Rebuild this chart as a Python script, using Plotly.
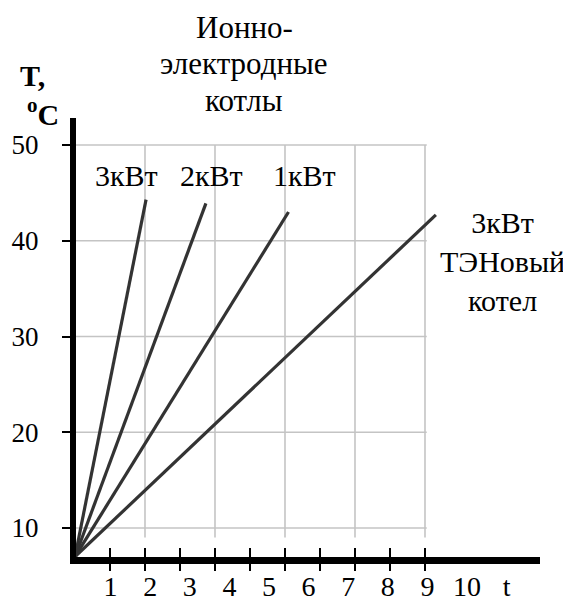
import plotly.graph_objects as go

# ---------------- data ----------------
series_names = ["3кВт", "2кВт", "1кВт", "3кВт ТЭНовый котел"]
t_start = [0.0, 0.0, 0.0, 0.0]
T_start = [7.0, 7.0, 7.0, 7.0]
t_end = [2.03, 3.74, 6.10, 10.31]
T_end = [44.3, 43.9, 43.0, 42.7]

y_tick_vals = [10, 20, 30, 40, 50]
y_tick_text = ["10", "20", "30", "40", "50"]
x_tick_vals = [1, 2, 3, 4, 5, 6, 7, 8, 9, 10]
x_grid_vals = [2, 4, 6, 8, 10]
x_label_vals = [1, 2, 3, 4, 5, 6, 7, 8, 9, 10, 11]
x_label_text = ["1", "2", "3", "4", "5", "6", "7", "8", "9", "10", "t"]
title_lines = ["Ионно-", "электродные", "котлы"]

# ---------------- frame (pixel geometry, in reference-picture pixels) -------
PAGE_OFF = 8                          # default page margin of the html body
W, H = 571 - PAGE_OFF, 602 - PAGE_OFF
PX_T0, PX_PER_T = 75.0, 35.0          # t = 0 position, pixels per unit t
PY_T10, PY_PER_DEG = 528.0, 9.575     # T = 10 position, pixels per degree
Y_AXIS_PX, Y_LW = 73.0, 6
X_AXIS_PY, X_LW = 560.0, 7
PLOT_L = 76
PLOT_B = 557
PLOT_R, PLOT_T = 540, 118
LBL_PX0, LBL_PX_PER = 71.0, 39.6      # tick-label scale of the picture

def t_of(px):
    return (px - PX_T0) / PX_PER_T

def T_of(py):
    return 10 + (PY_T10 - py) / PY_PER_DEG

def k_of(px):
    return (px - LBL_PX0) / LBL_PX_PER

def xp(px):
    return (px - PLOT_L) / (PLOT_R - PLOT_L)

def yp(py):
    return (PLOT_B - py) / (PLOT_B - PLOT_T)

FONT = "Liberation Serif"
LINE_COLOR = "#333333"
GRID_COLOR = "#c4c4c4"
X_RANGE = [t_of(PLOT_L), t_of(PLOT_R)]

fig = go.Figure()

for i, name in enumerate(series_names):
    fig.add_trace(go.Scatter(
        x=[t_start[i], t_end[i]], y=[T_start[i], T_end[i]],
        mode="lines", name=name,
        line=dict(color=LINE_COLOR, width=3.2),
        showlegend=False, hoverinfo="skip"))

# arrow heads
fig.add_trace(go.Scatter(
    x=[t_of(553)], y=[T_of(X_AXIS_PY)], mode="markers",
    marker=dict(symbol="arrow-right", size=22, color="black", line=dict(width=0)),
    cliponaxis=False, showlegend=False, hoverinfo="skip"))
fig.add_trace(go.Scatter(
    x=[t_of(Y_AXIS_PX)], y=[T_of(103)], mode="markers",
    marker=dict(symbol="arrow-up", size=19, color="black", line=dict(width=0)),
    cliponaxis=False, showlegend=False, hoverinfo="skip"))

# carriers for the overlay axes (draw nothing visible)
fig.add_trace(go.Scatter(
    x=x_label_vals, y=[T_of(PLOT_B) - 50] * len(x_label_vals), xaxis="x2", yaxis="y",
    mode="markers", marker=dict(opacity=0), showlegend=False, hoverinfo="skip"))
fig.add_trace(go.Scatter(
    x=x_tick_vals, y=[T_of(PLOT_B) - 50] * len(x_tick_vals), xaxis="x3", yaxis="y",
    mode="markers", marker=dict(opacity=0), showlegend=False, hoverinfo="skip"))

# grid (limited box, as in the picture)
shapes = []
for v in y_tick_vals:
    shapes.append(dict(type="line", xref="x", yref="y", x0=0, x1=10.05, y0=v, y1=v,
                       line=dict(color=GRID_COLOR, width=1.6), layer="below"))
for v in x_grid_vals:
    shapes.append(dict(type="line", xref="x", yref="y", x0=v, x1=v, y0=9.0, y1=50,
                       line=dict(color=GRID_COLOR, width=1.6), layer="below"))

title_y = [27, 64, 101]
annotations = [
    dict(text=txt, x=xp(244), y=yp(py), font=dict(size=31))
    for txt, py in zip(title_lines, title_y)
] + [
    dict(text="<b>T,</b>", x=xp(32), y=yp(75), font=dict(size=30)),
    dict(text="<b><sup>o</sup>C</b>", x=xp(43), y=yp(112), font=dict(size=30)),
    dict(text="3кВт", x=xp(126), y=yp(175), font=dict(size=30)),
    dict(text="2кВт", x=xp(211), y=yp(175), font=dict(size=30)),
    dict(text="1кВт", x=xp(304), y=yp(175), font=dict(size=30)),
    dict(text="3кВт<br>ТЭНовый<br>котел", x=xp(502), y=yp(261),
         font=dict(size=30)),
]
for a in annotations:
    a.update(xref="paper", yref="paper", showarrow=False,
             xanchor="center", yanchor="middle")
    a["font"].update(family=FONT, color="black")

fig.update_layout(
    width=W, height=H,
    margin=dict(l=PLOT_L - PAGE_OFF, r=W - (PLOT_R - PAGE_OFF),
                t=PLOT_T - PAGE_OFF, b=H - (PLOT_B - PAGE_OFF), pad=0,
                autoexpand=False),
    paper_bgcolor="white", plot_bgcolor="white",
    shapes=shapes, annotations=annotations,
    font=dict(family=FONT, color="black"),
    # main t axis: thick line + tick marks below the line
    xaxis=dict(range=X_RANGE, showline=True,
               linewidth=X_LW, linecolor="black",
               tickvals=x_tick_vals, ticks="outside", ticklen=7, tickwidth=2,
               tickcolor="black", showticklabels=False,
               showgrid=False, zeroline=False, fixedrange=True, automargin=False),
    # same scale, tick marks above the line
    xaxis3=dict(overlaying="x", anchor="y", side="bottom", range=X_RANGE,
                tickvals=x_tick_vals, ticks="inside", ticklen=9, tickwidth=2,
                tickcolor="black", showticklabels=False, showline=False,
                showgrid=False, zeroline=False, automargin=False),
    # tick-label scale of the picture
    xaxis2=dict(overlaying="x", anchor="y", side="bottom",
                range=[k_of(PLOT_L), k_of(PLOT_R)],
                tickvals=x_label_vals, ticktext=x_label_text,
                tickfont=dict(family=FONT, size=28, color="black"),
                ticks="", showline=False, showgrid=False, zeroline=False,
                ticklabelstandoff=10, automargin=False),
    yaxis=dict(range=[T_of(PLOT_B), T_of(PLOT_T)], showline=True,
               linewidth=Y_LW, linecolor="black",
               tickvals=y_tick_vals, ticktext=y_tick_text,
               ticks="outside", ticklen=8, tickwidth=1.5, tickcolor="black",
               tickfont=dict(family=FONT, size=27, color="black"),
               ticklabelstandoff=18, automargin=False,
               showgrid=False, zeroline=False, fixedrange=True),
)

fig.write_html("out.html")
